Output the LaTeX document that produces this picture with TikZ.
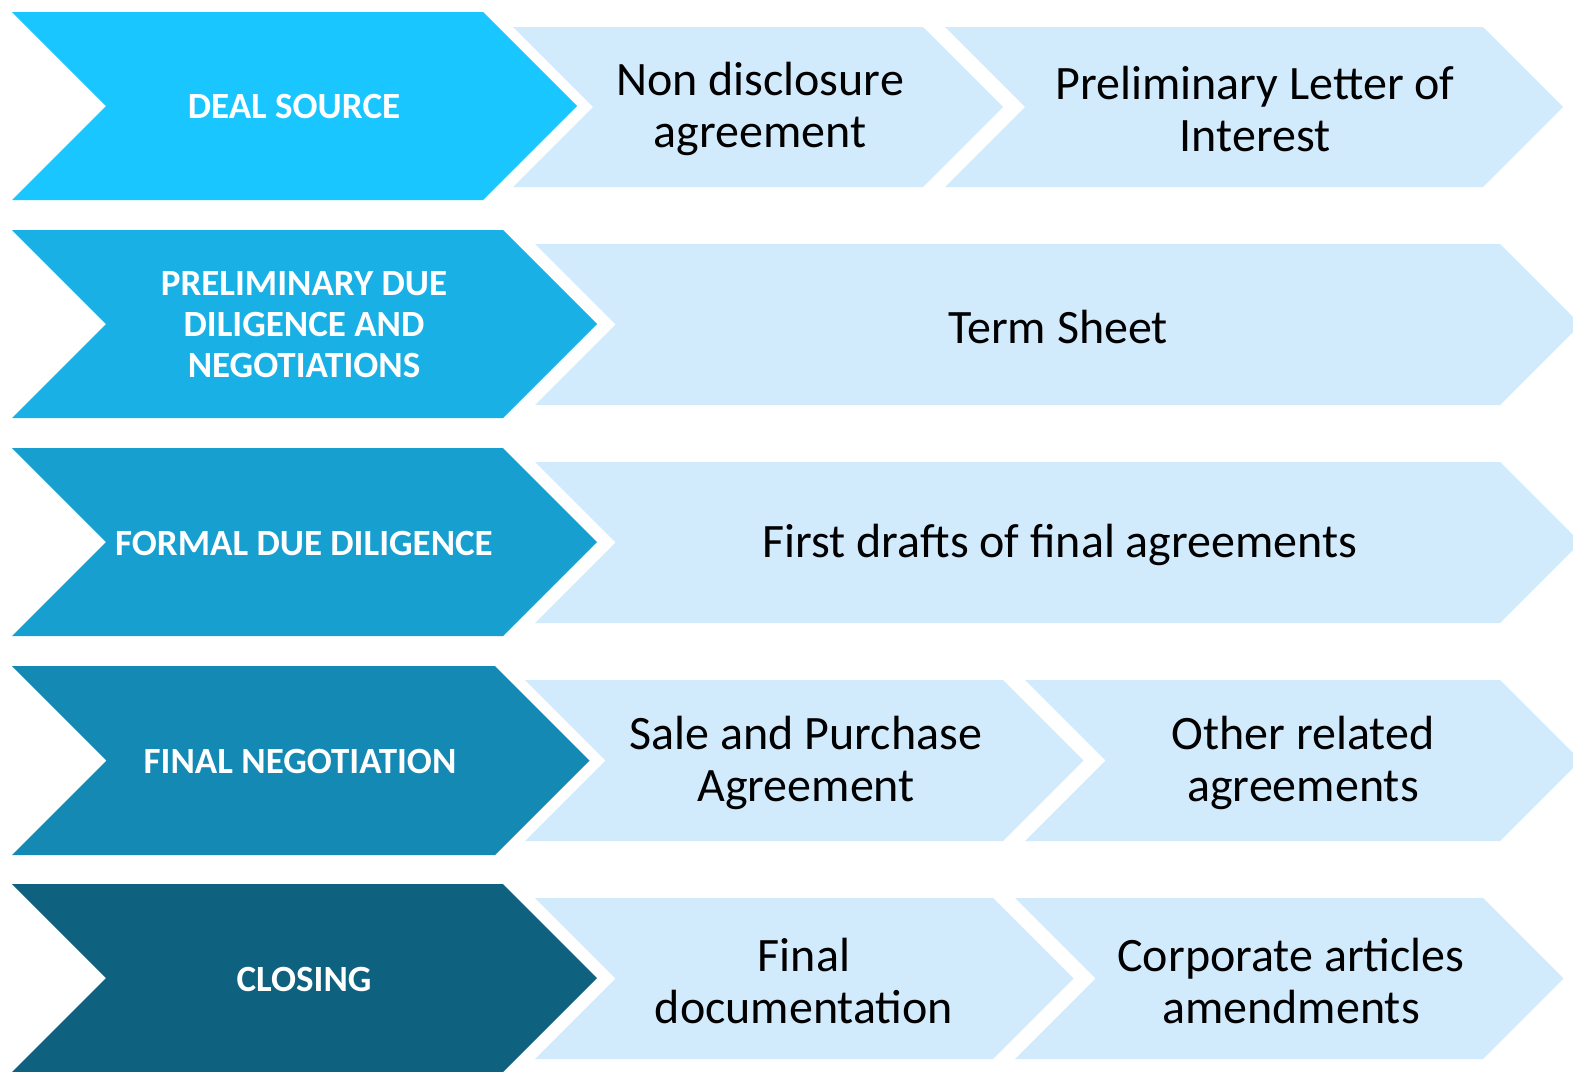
\documentclass[tikz,border=0pt]{standalone}
\usepackage{fontspec}
\setmainfont{Carlito}
\definecolor{cA}{HTML}{1AC6FF}
\definecolor{cB}{HTML}{19B1E5}
\definecolor{cC}{HTML}{179FCF}
\definecolor{cD}{HTML}{1489B4}
\definecolor{cE}{HTML}{0F627F}
\definecolor{lite}{HTML}{D1EBFD}
\newcommand\chev[5]{%
  \fill[#1] (#2,#4) -- (#3,#4) -- ({#3+(#5-#4)/2},{(#4+#5)/2}) -- (#3,#5) -- (#2,#5) -- ({#2+(#5-#4)/2},{(#4+#5)/2}) -- cycle;}
\begin{document}
\begin{tikzpicture}[x=1pt,y=-1pt,
  stage/.style={text=white,font=\fontsize{37}{41}\selectfont\bfseries,align=center},
  doc/.style={text=black,font=\fontsize{48}{52}\selectfont,align=center}]
\useasboundingbox (0,0) rectangle (1573,1071);
\begin{scope}
\clip (0,0) rectangle (1573,1071);
% row 1
\chev{cA}{12}{483}{12}{200}
\chev{lite}{513}{923}{27}{187}
\chev{lite}{945}{1483}{27}{187}
% row 2
\chev{cB}{12}{503}{230}{418}
\chev{lite}{535}{1500}{244}{405}
% row 3
\chev{cC}{12}{503}{448}{636}
\chev{lite}{535}{1500}{462}{623}
% row 4
\chev{cD}{12}{495}{666}{855}
\chev{lite}{525}{1003}{680}{841}
\chev{lite}{1025}{1500}{680}{841}
% row 5
\chev{cE}{12}{503}{884}{1072}
\chev{lite}{535}{993}{898}{1059}
\chev{lite}{1015}{1483}{898}{1059}
\end{scope}
\node[stage] (s1) at (294,107) {DEAL SOURCE};
\node[stage] (s2) at (304,325) {PRELIMINARY DUE\\DILIGENCE AND\\NEGOTIATIONS};
\node[stage] (s3) at (304,543) {FORMAL DUE DILIGENCE};
\node[stage] (s4) at (300,761) {FINAL NEGOTIATION};
\node[stage] (s5) at (304,979) {CLOSING};
\node[doc] (d11) at (760,109) {Non disclosure\\agreement};
\node[doc] (d12) at (1255,109) {Preliminary Letter of\\Interest};
\node[doc] (d2) at (1058,327) {Term Sheet};
\node[doc] (d3) at (1060,545) {First drafts of final agreements};
\node[doc] (d41) at (806,763) {Sale and Purchase\\Agreement};
\node[doc] (d42) at (1303,763) {Other related\\agreements};
\node[doc] (d51) at (804,981) {Final\\documentation};
\node[doc] (d52) at (1291,981) {Corporate articles\\amendments};
\end{tikzpicture}
\end{document}
